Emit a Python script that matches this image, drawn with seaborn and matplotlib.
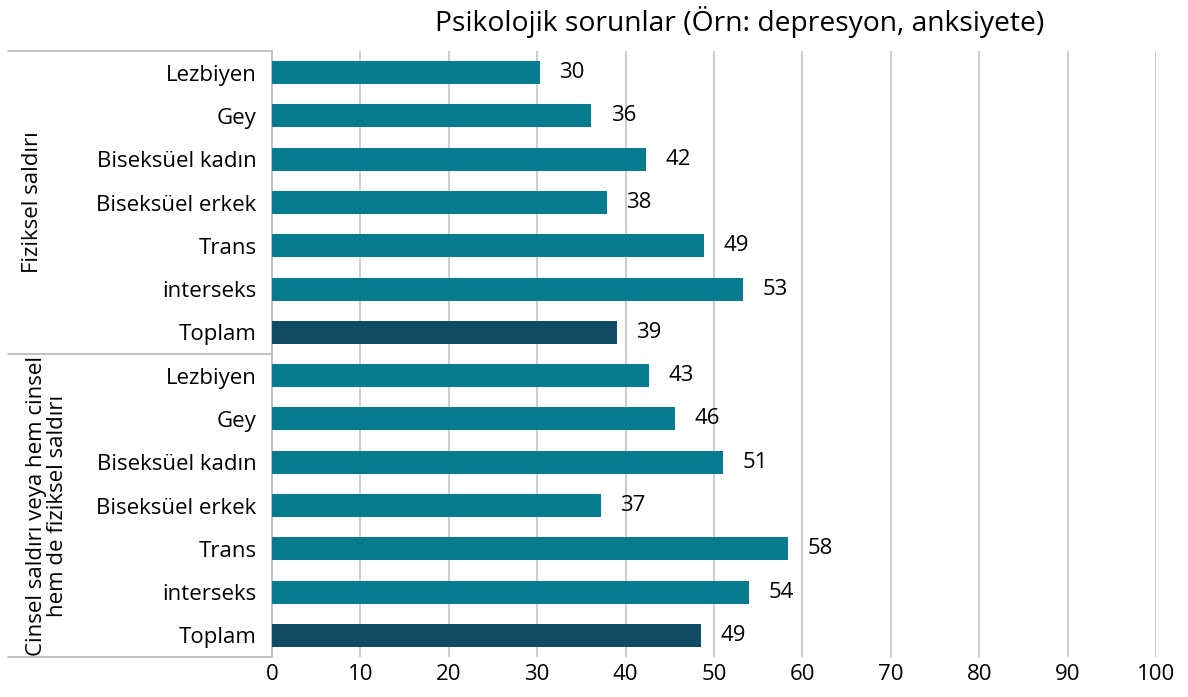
import pandas as pd
import matplotlib
matplotlib.use("Agg")
import matplotlib.pyplot as plt
import seaborn as sns

# data
groups = ["Fiziksel saldırı", "Cinsel saldırı veya hem cinsel\nhem de fiziksel saldırı"]
categories = ["Lezbiyen", "Gey", "Biseksüel kadın", "Biseksüel erkek", "Trans", "interseks", "Toplam"]
physical = [30.3, 36.1, 42.3, 37.9, 48.9, 53.3, 39.0]
sexual = [42.6, 45.6, 51.0, 37.2, 58.4, 54.0, 48.5]
physical_labels = [30, 36, 42, 38, 49, 53, 39]
sexual_labels = [43, 46, 51, 37, 58, 54, 49]
title = "Psikolojik sorunlar (Örn: depresyon, anksiyete)"

rows = []
for g, vals, labs in [(groups[0], physical, physical_labels), (groups[1], sexual, sexual_labels)]:
    for c, v, l in zip(categories, vals, labs):
        rows.append({"row": g + "|" + c, "group": g, "category": c, "value": v, "label": l,
                     "kind": "total" if c == "Toplam" else "group"})
df = pd.DataFrame(rows)

sns.set_theme(style="white")
plt.rcParams['font.family'] = ['Open Sans', 'DejaVu Sans']
fs = 16

fig = plt.figure(figsize=(11.88, 6.97), dpi=100)
ax = fig.add_axes([272 / 1188, 1 - 657 / 697, 884 / 1188, 606 / 697])

sns.barplot(data=df, x="value", y="row", hue="kind", orient="h", dodge=False,
            palette={"group": "#067b90", "total": "#0f4c64"}, width=0.53,
            legend=False, saturation=1, linewidth=0, ax=ax, zorder=3)

ax.set_xlim(0, 100)
ax.set_ylim(len(df) - 0.5, -0.5)
ax.set_xticks(range(0, 101, 10))
ax.set_xticklabels([str(t) for t in range(0, 101, 10)])
ax.set_yticks(range(len(df)))
ax.set_yticklabels(df["category"])
ax.set_xlabel("")
ax.set_ylabel("")
ax.tick_params(axis="both", length=0, labelsize=fs, colors="black")
ax.tick_params(axis="y", pad=11)
ax.tick_params(axis="x", pad=5)

for t in range(10, 101, 10):
    ax.axvline(t, color="#c3c3c3", lw=1.2, zorder=1)

for s in ["top", "right", "bottom"]:
    ax.spines[s].set_visible(False)
ax.spines["left"].set_color("#b8b8b8")
ax.spines["left"].set_linewidth(1.2)

# value labels
for i, r in df.iterrows():
    ax.text(r["value"] + 2.2, i, str(r["label"]), va="center", ha="left",
            fontsize=fs, color="black")

# group separators and group names on the left
yt = ax.get_yaxis_transform()
for y in [-0.5, 6.5, 13.5]:
    ax.plot([-0.2986, 0], [y, y], transform=yt, color="#b8b8b8", lw=1.2, clip_on=False)
ax.text(-0.271, 3, groups[0], transform=yt, rotation=90, ha="center", va="center",
        fontsize=fs, color="black")
ax.text(-0.255, 10, groups[1], transform=yt, rotation=90, ha="center", va="center",
        fontsize=fs, linespacing=1.0, color="black")

fig.text(740 / 1188, 1 - 22 / 697, title, ha="center", va="center", fontsize=20.3,
         color="black")

fig.savefig("out.png", dpi=100)
